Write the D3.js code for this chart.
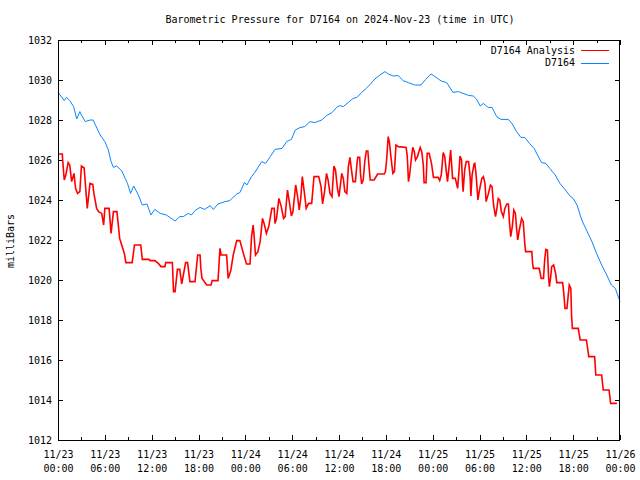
<!DOCTYPE html>
<html><head><meta charset="utf-8">
<script src="https://cdn.jsdelivr.net/npm/d3@7/dist/d3.min.js"></script>
<style>
body{margin:0;background:#fff}
text{font-family:"DejaVu Sans Mono","Liberation Mono",monospace;font-size:10px;fill:#000}
</style>
</head><body>
<svg id="chart" width="640" height="480"></svg>
<script>
// ---------- data ----------
const titleText = "Barometric Pressure for D7164 on 2024-Nov-23 (time in UTC)";
const yLabelText = "milliBars";
const startTime = "2024-11-23T00:00:00Z";
const spanHours = 72;
const yTicks = [1012,1014,1016,1018,1020,1022,1024,1026,1028,1030,1032];
const xTickDates = ["11/23","11/23","11/23","11/23","11/24","11/24","11/24","11/24","11/25","11/25","11/25","11/25","11/26"];
const xTickTimes = ["00:00","06:00","12:00","18:00","00:00","06:00","12:00","18:00","00:00","06:00","12:00","18:00","00:00"];
const seriesNames = ["D7164 Analysis","D7164"];
const seriesColors = ["#ff0000","#0a84ff"];

// D7164 Analysis (red): hours after start, pressure (mb)
const analysisHours = [0.0,0.55,0.6,0.8,1.0,1.3,1.5,1.75,2.05,2.25,2.5,2.8,3.0,3.35,3.65,3.75,4.1,4.45,4.6,4.95,5.2,5.6,5.85,6.0,6.55,6.8,7.1,7.55,7.9,8.1,8.5,8.7,9.5,9.8,10.6,10.8,11.65,11.8,12.4,12.85,13.2,13.7,13.8,14.65,14.8,15.0,15.3,15.6,15.85,16.35,16.6,16.9,17.55,17.9,18.2,18.3,18.45,19.05,19.6,19.75,20.5,20.75,20.9,21.6,21.8,22.15,22.45,22.9,23.3,23.75,24.15,24.6,24.8,25.0,25.1,25.3,25.6,25.9,26.2,26.4,26.7,27.0,27.4,27.7,27.8,28.0,28.3,28.6,28.9,29.1,29.4,29.6,29.9,30.1,30.45,30.7,30.9,31.1,31.3,31.55,31.8,32.1,32.5,32.8,33.4,33.7,33.9,34.15,34.4,34.6,34.85,35.1,35.35,35.55,35.8,36.0,36.35,36.55,36.75,37.0,37.2,37.4,37.6,37.8,38.1,38.3,38.4,38.65,38.75,38.9,39.1,39.3,39.5,39.7,39.85,40.0,40.5,40.8,40.95,41.8,41.95,42.1,42.3,42.45,42.65,42.9,43.1,43.3,43.6,44.6,44.75,44.9,45.05,45.25,45.45,45.65,45.8,46.05,46.4,46.6,46.8,46.9,47.15,47.3,47.55,47.85,48.1,48.7,48.9,49.1,49.35,49.55,49.75,49.9,50.1,50.3,50.45,50.55,50.9,51.1,51.2,51.4,51.5,51.7,51.8,51.9,52.1,52.3,52.6,52.8,52.9,53.05,53.3,53.4,53.55,53.8,54.0,54.3,54.5,54.7,54.85,55.15,55.4,55.6,55.8,56.05,56.2,56.4,56.6,56.8,57.05,57.25,57.5,57.7,57.85,58.0,58.2,58.4,58.6,58.75,58.9,59.1,59.4,59.6,59.8,59.9,60.7,60.8,60.9,61.65,61.9,62.2,62.35,62.5,62.7,62.85,62.95,63.1,63.25,63.5,63.75,63.9,64.65,64.8,64.95,65.2,65.35,65.5,65.7,65.8,65.9,66.65,66.9,67.7,68.0,68.75,68.9,69.65,69.85,70.6,70.8,71.6];
const analysisPressure = [1026.3,1026.3,1026.0,1025.0,1025.25,1025.87,1025.75,1024.92,1025.33,1024.58,1024.33,1024.42,1025.7,1025.6,1024.08,1023.58,1024.83,1024.78,1024.33,1023.58,1023.42,1023.33,1022.75,1023.58,1023.58,1022.33,1023.42,1023.42,1022.08,1021.83,1021.33,1020.87,1020.87,1021.75,1021.75,1021.03,1021.03,1020.97,1020.97,1020.83,1020.67,1020.67,1020.87,1020.87,1019.42,1019.42,1020.53,1020.53,1019.8,1020.87,1020.87,1019.92,1019.92,1021.25,1021.25,1020.58,1020.08,1019.75,1019.75,1019.97,1019.97,1021.58,1021.25,1021.25,1020.08,1020.5,1021.25,1021.97,1021.97,1021.33,1020.8,1020.8,1022.17,1022.75,1022.33,1021.25,1021.4,1021.92,1023.08,1022.83,1022.33,1022.67,1023.58,1023.58,1022.83,1023.08,1024.08,1023.67,1023.08,1023.17,1024.5,1024.0,1023.2,1023.42,1024.75,1024.17,1023.5,1024.08,1025.17,1024.42,1023.58,1023.83,1023.83,1025.17,1025.17,1024.67,1023.8,1024.42,1025.33,1025.0,1024.33,1024.17,1025.7,1025.5,1024.58,1024.17,1025.33,1025.08,1024.42,1024.33,1025.67,1026.13,1025.5,1024.92,1024.92,1025.8,1026.13,1026.13,1025.33,1024.8,1025.0,1025.92,1026.45,1026.45,1025.67,1025.0,1025.0,1025.2,1025.3,1025.3,1025.42,1026.0,1027.17,1026.92,1026.17,1025.33,1025.42,1026.75,1026.67,1026.63,1026.17,1024.92,1025.25,1026.0,1026.63,1026.42,1026.0,1026.17,1026.63,1026.42,1025.75,1024.87,1024.87,1026.33,1026.33,1025.83,1025.13,1025.13,1024.97,1025.25,1026.37,1026.17,1025.42,1024.92,1025.67,1026.5,1025.67,1025.08,1025.08,1024.75,1024.58,1025.58,1026.2,1026.0,1025.08,1024.42,1025.5,1025.92,1025.92,1025.17,1024.2,1025.25,1025.8,1025.83,1025.33,1024.0,1024.5,1025.08,1025.17,1024.83,1023.92,1024.33,1024.75,1024.67,1023.75,1023.17,1023.5,1024.08,1024.0,1023.42,1023.17,1023.58,1023.8,1023.8,1022.83,1022.17,1022.67,1023.5,1023.33,1022.58,1022.0,1022.5,1023.08,1022.92,1021.83,1021.42,1021.42,1020.83,1020.58,1020.58,1020.08,1020.08,1021.0,1021.53,1021.5,1020.17,1019.67,1020.08,1020.67,1020.75,1020.33,1019.87,1019.87,1019.33,1018.58,1018.58,1019.17,1019.75,1019.58,1018.17,1017.58,1017.58,1017.0,1017.0,1016.17,1016.17,1015.25,1015.25,1014.5,1014.5,1013.83,1013.83];

// D7164 (blue): hours after start, pressure (mb)
const stationHours = [0,0.8,1.1,1.5,2.0,2.4,2.8,3.0,3.5,4.1,4.5,5.0,5.4,6.0,6.45,6.8,7.1,7.5,8.15,8.6,8.9,9.3,9.7,10.3,10.8,11.4,11.9,12.4,13.1,13.9,15.0,15.6,16.05,16.7,17.1,17.55,18.2,18.8,19.5,19.9,20.5,21.4,22.0,22.9,23.3,23.9,24.2,24.8,25.2,26.1,26.6,27.2,27.8,28.7,29.3,29.9,30.4,31.0,31.6,32.3,32.9,33.8,34.4,35.1,35.7,36.1,36.55,37.2,37.8,38.3,38.9,39.5,40.1,40.6,41.25,41.9,42.3,42.95,43.6,44.2,44.9,45.7,46.5,47.1,47.8,48.3,49.1,49.8,50.6,51.3,51.9,52.6,53.2,53.6,54.1,54.5,55.1,55.6,56.2,56.75,57.7,58.2,58.75,59.3,59.8,60.4,61.0,61.5,61.95,62.5,63.0,63.7,64.3,64.95,65.6,66.0,66.5,67.1,67.7,68.4,69.0,69.65,70.3,70.9,71.4,72.0];
const stationPressure = [1029.39,1028.97,1029.13,1028.97,1028.67,1028.05,1028.42,1028.25,1027.92,1028.0,1028.0,1027.58,1027.25,1026.92,1026.5,1025.92,1025.63,1025.7,1025.47,1025.08,1024.83,1024.33,1024.7,1024.25,1023.75,1023.8,1023.25,1023.53,1023.33,1023.25,1022.95,1023.17,1023.17,1023.33,1023.25,1023.47,1023.63,1023.53,1023.72,1023.53,1023.8,1023.92,1023.97,1024.3,1024.37,1024.88,1024.75,1025.17,1025.37,1025.92,1025.83,1026.17,1026.53,1026.58,1026.92,1027.03,1027.5,1027.62,1027.67,1027.92,1027.87,1028.0,1028.22,1028.37,1028.63,1028.72,1028.67,1028.88,1029.08,1029.13,1029.38,1029.58,1029.83,1030.05,1030.25,1030.42,1030.3,1030.2,1030.22,1029.97,1029.87,1029.75,1029.75,1030.03,1030.3,1030.17,1029.95,1029.87,1029.38,1029.42,1029.33,1029.23,1029.2,1029.05,1028.7,1028.83,1028.63,1028.63,1028.17,1028.03,1028.03,1027.8,1027.42,1027.13,1027.13,1026.83,1026.58,1026.2,1025.87,1025.83,1025.58,1025.25,1024.83,1024.53,1024.2,1024.08,1023.75,1023.0,1022.5,1021.92,1021.33,1020.75,1020.25,1019.75,1019.58,1018.92];

// ---------- chart ----------
const svg = d3.select("#chart");
const M = {left:58, right:620, top:40, bottom:440};
const t0 = new Date(startTime);
const hourToDate = h => new Date(t0.getTime() + h*3600*1000);

const x = d3.scaleUtc().domain([t0, hourToDate(spanHours)]).range([M.left, M.right]);
const y = d3.scaleLinear().domain([1012,1032]).range([M.bottom, M.top]);

svg.append("rect").attr("width",640).attr("height",480).attr("fill","#fff");

// ticks (inward, mirrored)
const majorTicks = d3.utcHour.every(6).range(t0, hourToDate(spanHours+0.1));
const minorTicks = d3.utcHour.every(3).range(t0, hourToDate(spanHours+0.1));

const bottomAxis = d3.axisBottom(x).tickValues(majorTicks).tickSize(0).tickPadding(0).tickFormat((d,i)=>xTickDates[i]);
const gB = svg.append("g").attr("transform",`translate(0,${M.bottom})`).call(bottomAxis);
gB.select(".domain").remove();
gB.selectAll(".tick text").each(function(d,i){
  const t = d3.select(this);
  t.text(null).attr("y",0).attr("dy",null);
  t.append("tspan").attr("x",0).attr("y",17.5).text(xTickDates[i]);
  t.append("tspan").attr("x",0).attr("y",31.5).text(xTickTimes[i]);
});
gB.selectAll("text").style("font-family",'"DejaVu Sans Mono",monospace').style("font-size","10px").attr("fill","#000");

const leftAxis = d3.axisLeft(y).tickValues(yTicks).tickSize(0).tickPadding(6).tickFormat(d3.format("d"));
const gL = svg.append("g").attr("transform",`translate(${M.left},0)`).call(leftAxis);
gL.select(".domain").remove();
gL.selectAll("text").style("font-family",'"DejaVu Sans Mono",monospace').style("font-size","10px").attr("fill","#000");

const tickG = svg.append("g").attr("stroke","#000").attr("stroke-width",1).attr("shape-rendering","crispEdges");
minorTicks.forEach((d,i)=>{
  const len = (i%2===0) ? 5 : 3;
  const px = Math.round(x(d))+0.5;
  tickG.append("line").attr("x1",px).attr("x2",px).attr("y1",M.bottom).attr("y2",M.bottom-len);
  tickG.append("line").attr("x1",px).attr("x2",px).attr("y1",M.top).attr("y2",M.top+len);
});
yTicks.forEach(v=>{
  const py = Math.round(y(v))+0.5;
  tickG.append("line").attr("x1",M.left).attr("x2",M.left+5).attr("y1",py).attr("y2",py);
  tickG.append("line").attr("x1",M.right).attr("x2",M.right-5).attr("y1",py).attr("y2",py);
});

// series
const line = d3.line().x(d=>x(d[0])).y(d=>y(d[1]));
const analysisData = analysisHours.map((h,i)=>[hourToDate(h), analysisPressure[i]]);
const stationData = stationHours.map((h,i)=>[hourToDate(h), stationPressure[i]]);

svg.append("path").datum(analysisData).attr("d",line)
  .attr("fill","none").attr("stroke",seriesColors[0]).attr("stroke-width",1.6).attr("stroke-linejoin","miter");
svg.append("path").datum(stationData).attr("d",line)
  .attr("fill","none").attr("stroke",seriesColors[1]).attr("stroke-width",1);

// frame
svg.append("rect").attr("x",M.left+0.5).attr("y",M.top+0.5)
  .attr("width",M.right-M.left-1).attr("height",M.bottom-M.top)
  .attr("fill","none").attr("stroke","#000").attr("stroke-width",1).attr("shape-rendering","crispEdges");

// title
svg.append("text").attr("x",340).attr("y",23).attr("text-anchor","middle").text(titleText);
// y label
svg.append("text").attr("transform","translate(14,241) rotate(-90)").attr("text-anchor","middle").text(yLabelText);

// legend
const legY = [50, 62.5];
seriesNames.forEach((n,i)=>{
  svg.append("text").attr("x",575).attr("y",legY[i]+3.5).attr("text-anchor","end").text(n);
  svg.append("line").attr("x1",581).attr("x2",609).attr("y1",Math.round(legY[i])+0.5).attr("y2",Math.round(legY[i])+0.5)
    .attr("stroke",seriesColors[i]).attr("stroke-width",1).attr("shape-rendering","crispEdges");
});
</script>
</body></html>
